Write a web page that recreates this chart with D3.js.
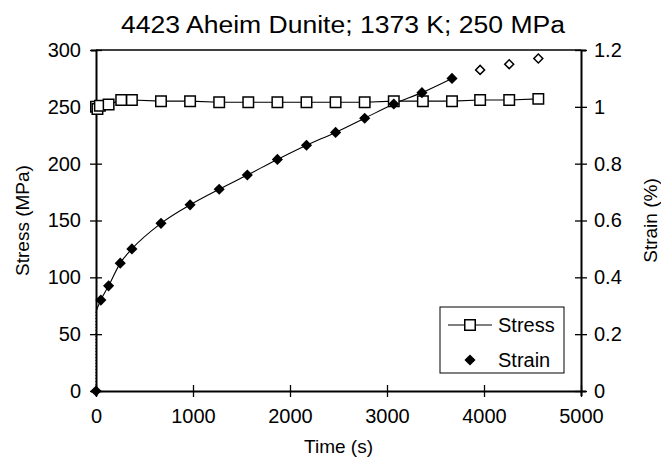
<!DOCTYPE html>
<html>
<head>
<meta charset="utf-8">
<script src="https://cdn.jsdelivr.net/npm/d3@7"></script>
<style>
  html, body { margin: 0; padding: 0; background: #fff; }
  svg { display: block; font-family: "Liberation Sans", Arial, sans-serif; }
</style>
</head>
<body>
<svg id="chart" width="661" height="470"></svg>
<script>
// ---- data ----
const title = "4423 Aheim Dunite; 1373 K; 250 MPa";
const stressTime = [0, 15, 40, 130, 260, 370, 670, 970, 1270, 1570, 1870, 2170, 2470, 2770, 3070, 3370, 3670, 3960, 4260, 4560];
const stressValues = [250, 248, 251, 252, 256, 256, 255, 255, 254, 254, 254, 254, 254, 254, 255, 255, 255, 256, 256, 257];
const strainTime = [0, 50, 130, 250, 370, 670, 970, 1270, 1560, 1870, 2170, 2470, 2770, 3070, 3360, 3670];
const strainValues = [0, 0.32, 0.37, 0.45, 0.50, 0.59, 0.655, 0.71, 0.76, 0.815, 0.865, 0.91, 0.96, 1.01, 1.05, 1.10];
const strainOpenTime = [3960, 4260, 4560];
const strainOpenValues = [1.13, 1.15, 1.17];
const strainCurveStart = 0.28; // curve through filled points begins here at t = 0
const xTicks = [0, 1000, 2000, 3000, 4000, 5000];
const yLeftTicks = [0, 50, 100, 150, 200, 250, 300];
const yRightTicks = [0, 0.2, 0.4, 0.6, 0.8, 1, 1.2];

// ---- layout ----
const W = 661, H = 470;
const m = { left: 96, right: 80, top: 50, bottom: 79 };
const svg = d3.select("#chart");
const x = d3.scaleLinear().domain([0, 5000]).range([m.left, W - m.right]);
const yL = d3.scaleLinear().domain([0, 300]).range([H - m.bottom, m.top]);
const yR = d3.scaleLinear().domain([0, 1.2]).range([H - m.bottom, m.top]);

const fs = 20;

// frame top line
svg.append("line").attr("x1", x(0)).attr("x2", x(5000)).attr("y1", yL(300)).attr("y2", yL(300))
  .attr("stroke", "#000").attr("stroke-width", 1.5);

// axes
const axB = svg.append("g").attr("transform", `translate(0,${yL(0)})`)
  .call(d3.axisBottom(x).tickValues(xTicks).tickFormat(d3.format("d")).tickSize(5).tickPadding(13));
const axL = svg.append("g").attr("transform", `translate(${x(0)},0)`)
  .call(d3.axisLeft(yL).tickValues(yLeftTicks).tickSize(5).tickPadding(10));
const axR = svg.append("g").attr("transform", `translate(${x(5000)},0)`)
  .call(d3.axisRight(yR).tickValues(yRightTicks).tickFormat(d => d3.format("~g")(d)).tickSize(5).tickPadding(8));

[axB, axL, axR].forEach(a => {
  a.select(".domain").attr("stroke", "#000").attr("stroke-width", 2);
  a.selectAll(".tick line").attr("stroke", "#000").attr("stroke-width", 1.3);
  a.selectAll(".tick text").attr("font-size", fs).attr("font-family", "Liberation Sans, Arial, sans-serif").attr("fill", "#000");
});
// make ticks cross the axis lines
axB.selectAll(".tick line").attr("y1", -6).attr("y2", 6);
axL.selectAll(".tick line").attr("x1", -6).attr("x2", 6);
axR.selectAll(".tick line").attr("x1", -6).attr("x2", 6);

// ---- series ----
const stressData = stressTime.map((t, i) => ({ t, v: stressValues[i] }));
const strainData = strainTime.map((t, i) => ({ t, v: strainValues[i] }));
const strainOpen = strainOpenTime.map((t, i) => ({ t, v: strainOpenValues[i] }));
const curveData = [{ t: 0, v: strainCurveStart }].concat(strainData.slice(1));

const plot = svg.append("g");

// strain curve
plot.append("path").datum(curveData)
  .attr("fill", "none").attr("stroke", "#000").attr("stroke-width", 1.1)
  .attr("d", d3.line().x(d => x(d.t)).y(d => yR(d.v)).curve(d3.curveMonotoneX));
// dotted link down to origin
plot.append("line").attr("x1", x(0)).attr("x2", x(0)).attr("y1", yR(0)).attr("y2", yR(strainCurveStart))
  .attr("stroke", "#000").attr("stroke-dasharray", "1,2");

// stress line
plot.append("path").datum(stressData)
  .attr("fill", "none").attr("stroke", "#000").attr("stroke-width", 1.1)
  .attr("d", d3.line().x(d => x(d.t)).y(d => yL(d.v)));

const sq = d3.symbol().type(d3.symbolSquare).size(110);
const dia = d3.symbol().type(d3.symbolSquare).size(62);     // rotated 45° below
const diaOpen = d3.symbol().type(d3.symbolSquare).size(40); // rotated 45° below

plot.selectAll(".sq").data(stressData).join("path").attr("class", "sq")
  .attr("transform", d => `translate(${x(d.t)},${yL(d.v)})`)
  .attr("d", sq).attr("fill", "#fff").attr("stroke", "#000").attr("stroke-width", 1.5);

plot.selectAll(".dia").data(strainData).join("path").attr("class", "dia")
  .attr("transform", d => `translate(${x(d.t)},${yR(d.v)}) rotate(45)`)
  .attr("d", dia).attr("fill", "#000");

plot.selectAll(".diao").data(strainOpen).join("path").attr("class", "diao")
  .attr("transform", d => `translate(${x(d.t)},${yR(d.v)}) rotate(45)`)
  .attr("d", diaOpen).attr("fill", "#fff").attr("stroke", "#000").attr("stroke-width", 1.5);

// ---- texts ----
svg.append("text").attr("x", 343).attr("y", 33).attr("text-anchor", "middle")
  .attr("font-size", 23).attr("textLength", 444).attr("lengthAdjust", "spacingAndGlyphs").text(title);
svg.append("text").attr("x", (x(0) + x(5000)) / 2).attr("y", 453).attr("text-anchor", "middle")
  .attr("font-size", 19).text("Time (s)");
svg.append("text").attr("transform", `translate(29,${(yL(0) + yL(300)) / 2}) rotate(-90)`)
  .attr("text-anchor", "middle").attr("font-size", 19).text("Stress (MPa)");
svg.append("text").attr("transform", `translate(657,${(yL(0) + yL(300)) / 2}) rotate(-90)`)
  .attr("text-anchor", "middle").attr("font-size", 19).text("Strain (%)");

// ---- legend ----
const lg = svg.append("g");
lg.append("rect").attr("x", 440).attr("y", 307).attr("width", 124).attr("height", 66)
  .attr("fill", "#fff").attr("stroke", "#000").attr("stroke-width", 1);
lg.append("line").attr("x1", 448).attr("x2", 492).attr("y1", 325).attr("y2", 325).attr("stroke", "#000").attr("stroke-width", 1.1);
lg.append("path").attr("transform", "translate(470,325)").attr("d", sq).attr("fill", "#fff").attr("stroke", "#000").attr("stroke-width", 1.5);
lg.append("path").attr("transform", "translate(470,360) rotate(45)").attr("d", dia).attr("fill", "#000");
lg.append("text").attr("x", 498).attr("y", 325).attr("dy", "0.35em").attr("font-size", 20).text("Stress");
lg.append("text").attr("x", 498).attr("y", 360).attr("dy", "0.35em").attr("font-size", 20).text("Strain");
</script>
</body>
</html>
